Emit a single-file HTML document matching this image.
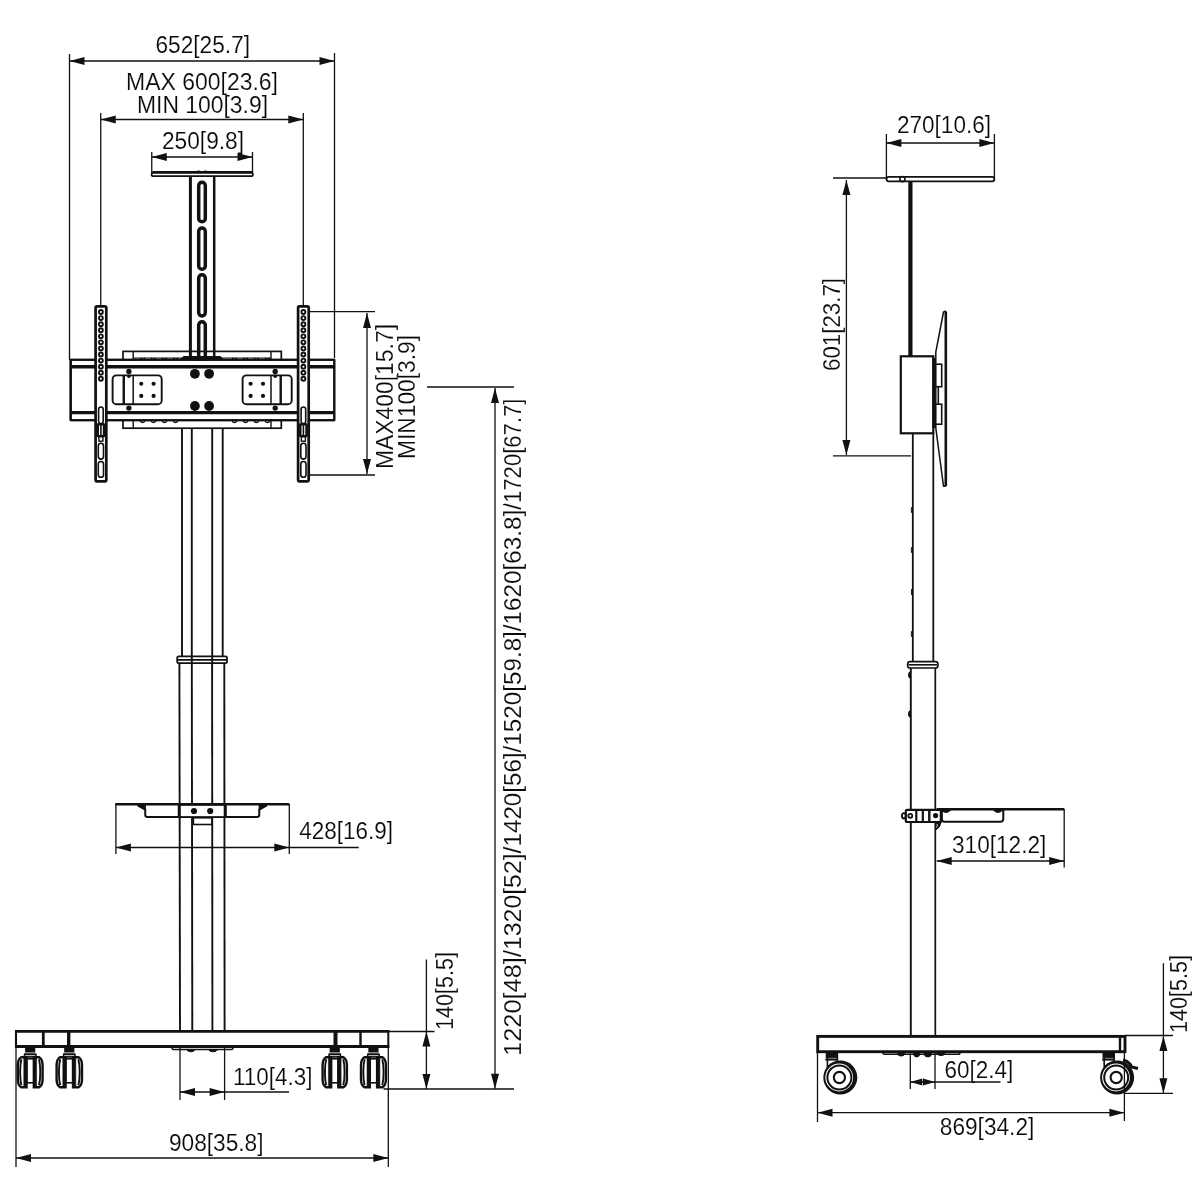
<!DOCTYPE html>
<html><head><meta charset="utf-8"><style>
html,body{margin:0;padding:0;background:#fff;}
svg{display:block;will-change:transform;}
text{font-family:"Liberation Sans",sans-serif;fill:#0a0a0a;stroke:#fff;stroke-width:0.15px;paint-order:fill stroke;}
.f{fill:#111;stroke:none;}
</style></head><body>
<svg width="1200" height="1200" viewBox="0 0 1200 1200">
<rect x="0" y="0" width="1200" height="1200" fill="#fff"/>
<g stroke="#111" fill="none">
<line x1="69.5" y1="54" x2="69.5" y2="360" stroke-width="1.3"/>
<line x1="334.5" y1="53" x2="334.5" y2="358" stroke-width="1.3"/>
<line x1="69.5" y1="61" x2="334.5" y2="61" stroke-width="1.3"/>
<polygon class="f" points="69.5,61 84.5,57 84.5,65"/>
<polygon class="f" points="334.5,61 319.5,57 319.5,65"/>
<text x="155.5" y="53" font-size="23" textLength="94.5" lengthAdjust="spacingAndGlyphs">652[25.7]</text>
<text x="126" y="90" font-size="23" textLength="152" lengthAdjust="spacingAndGlyphs">MAX 600[23.6]</text>
<text x="137" y="112.5" font-size="23" textLength="131" lengthAdjust="spacingAndGlyphs">MIN 100[3.9]</text>
<line x1="100.75" y1="113" x2="100.75" y2="306.5" stroke-width="1.3"/>
<line x1="303.3" y1="113" x2="303.3" y2="306.5" stroke-width="1.3"/>
<line x1="100.75" y1="119.5" x2="303.3" y2="119.5" stroke-width="1.3"/>
<polygon class="f" points="100.75,119.5 115.75,115.5 115.75,123.5"/>
<polygon class="f" points="303.3,119.5 288.3,115.5 288.3,123.5"/>
<text x="162" y="148.75" font-size="23" textLength="82" lengthAdjust="spacingAndGlyphs">250[9.8]</text>
<line x1="151.75" y1="152" x2="151.75" y2="174" stroke-width="1.3"/>
<line x1="252.5" y1="152" x2="252.5" y2="174" stroke-width="1.3"/>
<line x1="151.75" y1="157" x2="252.5" y2="157" stroke-width="1.3"/>
<polygon class="f" points="151.75,157 166.75,153 166.75,161"/>
<polygon class="f" points="252.5,157 237.5,153 237.5,161"/>
<rect x="151.6" y="172.6" width="101.3" height="3.6" rx="1.8" fill="none" stroke-width="1.7"/>
<line x1="152.5" y1="172.3" x2="252" y2="172.3" stroke-width="2.6"/>
<path d="M196,172.3 Q198.5,170 201,172.3 M203,172.3 Q205.5,170 208,172.3" fill="none" stroke-width="1.2"/>
<line x1="190.4" y1="176.5" x2="190.4" y2="358" stroke-width="3.0"/>
<line x1="214.2" y1="176.5" x2="214.2" y2="358" stroke-width="2.5"/>
<rect x="198.7" y="182.3" width="6.6" height="39.4" rx="3.3" fill="none" stroke-width="3.5"/>
<rect x="198.7" y="228.1" width="6.6" height="41.1" rx="3.3" fill="none" stroke-width="3.5"/>
<rect x="198.7" y="274.8" width="6.6" height="41.1" rx="3.3" fill="none" stroke-width="3.5"/>
<rect x="198.7" y="321.8" width="6.6" height="40.4" rx="3.3" fill="none" stroke-width="3.5"/>
<rect x="123" y="351.4" width="158.3" height="76.8" rx="0" fill="none" stroke-width="1.7"/>
<line x1="133.2" y1="351.4" x2="133.2" y2="428.2" stroke-width="1.4"/>
<line x1="271" y1="351.4" x2="271" y2="428.2" stroke-width="1.4"/>
<path d="M140,358 q2.5,2.5 5,0 M151,358 q2.5,2.5 5,0 M162,358 q2.5,2.5 5,0 M173,358 q2.5,2.5 5,0 M232,358 q2.5,2.5 5,0 M243,358 q2.5,2.5 5,0 M254,358 q2.5,2.5 5,0 M265,358 q2.5,2.5 5,0 " fill="none" stroke-width="1.3"/>
<line x1="133.2" y1="358" x2="271" y2="358" stroke-width="1.0"/>
<path d="M140,421.3 q2.5,2.5 5,0 M151,421.3 q2.5,2.5 5,0 M162,421.3 q2.5,2.5 5,0 M173,421.3 q2.5,2.5 5,0 M232,421.3 q2.5,2.5 5,0 M243,421.3 q2.5,2.5 5,0 M254,421.3 q2.5,2.5 5,0 M265,421.3 q2.5,2.5 5,0 " fill="none" stroke-width="1.3"/>
<path d="M181,359.3 L184,356.5 L220,356.5 L223,359.3 Z" fill="#111" stroke-width="1.2"/>
<rect x="70.7" y="359.8" width="263.6" height="60.4" rx="0" fill="none" stroke-width="2.0"/>
<rect x="72" y="361" width="261" height="58" fill="#fff" stroke="none"/>
<line x1="70.7" y1="359.8" x2="334.3" y2="359.8" stroke-width="2.0"/>
<line x1="70.7" y1="420.2" x2="334.3" y2="420.2" stroke-width="2.0"/>
<line x1="70.7" y1="359.8" x2="70.7" y2="420.2" stroke-width="2.4"/>
<line x1="334.3" y1="359.8" x2="334.3" y2="420.2" stroke-width="2.0"/>
<line x1="70.7" y1="366.7" x2="334.3" y2="366.7" stroke-width="3.4"/>
<line x1="70.7" y1="412.6" x2="334.3" y2="412.6" stroke-width="3.4"/>
<rect x="112.6" y="375.4" width="49.1" height="28.8" rx="3.8" fill="none" stroke-width="1.9"/>
<rect x="242.6" y="375.4" width="49.1" height="28.8" rx="3.8" fill="none" stroke-width="1.9"/>
<line x1="123.75" y1="375.4" x2="123.75" y2="404.2" stroke-width="2.4"/>
<line x1="133.2" y1="375.4" x2="133.2" y2="404.2" stroke-width="1.5"/>
<line x1="271" y1="375.4" x2="271" y2="404.2" stroke-width="1.5"/>
<line x1="280.7" y1="375.4" x2="280.7" y2="404.2" stroke-width="2.4"/>
<circle class="f" cx="141.25" cy="383.75" r="2.1"/>
<circle class="f" cx="141.25" cy="395.9" r="2.1"/>
<circle class="f" cx="153.6" cy="383.75" r="2.1"/>
<circle class="f" cx="153.6" cy="395.9" r="2.1"/>
<circle class="f" cx="250.6" cy="383.75" r="2.1"/>
<circle class="f" cx="250.6" cy="395.9" r="2.1"/>
<circle class="f" cx="263" cy="383.75" r="2.1"/>
<circle class="f" cx="263" cy="395.9" r="2.1"/>
<circle class="f" cx="194.9" cy="373.8" r="4.9"/>
<circle class="f" cx="194.9" cy="406" r="4.9"/>
<circle class="f" cx="209.1" cy="373.8" r="4.9"/>
<circle class="f" cx="209.1" cy="406" r="4.9"/>
<circle class="f" cx="128.9" cy="371.4" r="2.7"/>
<circle class="f" cx="128.9" cy="408.1" r="2.7"/>
<circle class="f" cx="128.9" cy="376.3" r="1.8"/>
<circle class="f" cx="275.2" cy="371.4" r="2.7"/>
<circle class="f" cx="275.2" cy="408.1" r="2.7"/>
<circle class="f" cx="275.2" cy="376.3" r="1.8"/>
<rect x="95.6" y="306.3" width="10.7" height="175" rx="1.5" fill="#fff" stroke-width="2.7"/>
<circle cx="100.9" cy="312" r="1.95" fill="none" stroke-width="1.9"/>
<circle cx="100.9" cy="318.07" r="1.95" fill="none" stroke-width="1.9"/>
<circle cx="100.9" cy="324.14" r="1.95" fill="none" stroke-width="1.9"/>
<circle cx="100.9" cy="330.21" r="1.95" fill="none" stroke-width="1.9"/>
<circle cx="100.9" cy="336.28" r="1.95" fill="none" stroke-width="1.9"/>
<circle cx="100.9" cy="342.35" r="1.95" fill="none" stroke-width="1.9"/>
<circle cx="100.9" cy="348.42" r="1.95" fill="none" stroke-width="1.9"/>
<circle cx="100.9" cy="354.49" r="1.95" fill="none" stroke-width="1.9"/>
<circle cx="100.9" cy="360.56" r="1.95" fill="none" stroke-width="1.9"/>
<circle cx="100.9" cy="366.63" r="1.95" fill="none" stroke-width="1.9"/>
<circle cx="100.9" cy="372.7" r="1.95" fill="none" stroke-width="1.9"/>
<circle cx="100.9" cy="378.77" r="1.95" fill="none" stroke-width="1.9"/>
<rect x="98.6" y="407" width="4.6" height="16.5" rx="2.3" fill="none" stroke-width="1.6"/>
<rect x="97.7" y="424.3" width="6.4" height="11.9" rx="0.8" fill="none" stroke-width="2.6"/>
<line x1="100.9" y1="425" x2="100.9" y2="436" stroke-width="1.6"/>
<rect x="98.9" y="436.2" width="4" height="5" rx="0" fill="none" stroke-width="1.4"/>
<rect x="98.3" y="443.3" width="5.2" height="15.8" rx="2.6" fill="none" stroke-width="1.6"/>
<rect x="98.3" y="461.5" width="5.2" height="15.8" rx="2.6" fill="none" stroke-width="1.6"/>
<rect x="298.1" y="306.3" width="10.6" height="175" rx="1.5" fill="#fff" stroke-width="2.7"/>
<circle cx="303.4" cy="312" r="1.95" fill="none" stroke-width="1.9"/>
<circle cx="303.4" cy="318.07" r="1.95" fill="none" stroke-width="1.9"/>
<circle cx="303.4" cy="324.14" r="1.95" fill="none" stroke-width="1.9"/>
<circle cx="303.4" cy="330.21" r="1.95" fill="none" stroke-width="1.9"/>
<circle cx="303.4" cy="336.28" r="1.95" fill="none" stroke-width="1.9"/>
<circle cx="303.4" cy="342.35" r="1.95" fill="none" stroke-width="1.9"/>
<circle cx="303.4" cy="348.42" r="1.95" fill="none" stroke-width="1.9"/>
<circle cx="303.4" cy="354.49" r="1.95" fill="none" stroke-width="1.9"/>
<circle cx="303.4" cy="360.56" r="1.95" fill="none" stroke-width="1.9"/>
<circle cx="303.4" cy="366.63" r="1.95" fill="none" stroke-width="1.9"/>
<circle cx="303.4" cy="372.7" r="1.95" fill="none" stroke-width="1.9"/>
<circle cx="303.4" cy="378.77" r="1.95" fill="none" stroke-width="1.9"/>
<rect x="301.1" y="407" width="4.6" height="16.5" rx="2.3" fill="none" stroke-width="1.6"/>
<rect x="300.2" y="424.3" width="6.4" height="11.9" rx="0.8" fill="none" stroke-width="2.6"/>
<line x1="303.4" y1="425" x2="303.4" y2="436" stroke-width="1.6"/>
<rect x="301.4" y="436.2" width="4" height="5" rx="0" fill="none" stroke-width="1.4"/>
<rect x="300.8" y="443.3" width="5.2" height="15.8" rx="2.6" fill="none" stroke-width="1.6"/>
<rect x="300.8" y="461.5" width="5.2" height="15.8" rx="2.6" fill="none" stroke-width="1.6"/>
<line x1="182" y1="428.2" x2="182" y2="657" stroke-width="1.9"/>
<line x1="191.8" y1="428.2" x2="191.8" y2="657" stroke-width="1.9"/>
<line x1="212.2" y1="428.2" x2="212.2" y2="657" stroke-width="1.9"/>
<line x1="222.7" y1="428.2" x2="222.7" y2="657" stroke-width="1.9"/>
<rect x="177.2" y="656.4" width="49.8" height="6.8" rx="1.6" fill="none" stroke-width="1.8"/>
<line x1="178" y1="659.8" x2="226.5" y2="659.8" stroke-width="1.7"/>
<line x1="191.8" y1="656" x2="191.8" y2="663.5" stroke-width="1.9"/>
<line x1="212.2" y1="656" x2="212.2" y2="663.5" stroke-width="1.9"/>
<line x1="179.4" y1="663" x2="180" y2="1031" stroke-width="1.9"/>
<line x1="191.8" y1="663" x2="192.3" y2="1031" stroke-width="1.9"/>
<line x1="212.1" y1="663" x2="212.4" y2="1031" stroke-width="1.9"/>
<line x1="224.3" y1="663" x2="224.6" y2="1031" stroke-width="1.9"/>
<path d="M137.75,805.4 L145.25,809.5 L145.25,815 Q145.25,817 147.5,817 L257,817 Q259.25,817 259.25,815 L259.25,809.5 L266.75,805.4" fill="none" stroke-width="2.0"/>
<path d="M137.75,805.4 L145.25,805.4 L145.25,809.5 Z M266.75,805.4 L259.25,805.4 L259.25,809.5 Z" fill="#111" stroke-width="1.2"/>
<line x1="115.25" y1="804.3" x2="289.25" y2="804.3" stroke-width="2.5"/>
<rect x="178.6" y="805" width="47.3" height="12" rx="0" fill="#fff" stroke-width="1.7"/>
<line x1="179.6" y1="805" x2="179.6" y2="817" stroke-width="2.4"/>
<line x1="224.9" y1="805" x2="224.9" y2="817" stroke-width="2.4"/>
<circle class="f" cx="194" cy="811" r="3.1"/>
<circle class="f" cx="210.2" cy="811" r="3.1"/>
<rect x="193.4" y="817.8" width="18.6" height="6.7" rx="0" fill="none" stroke-width="1.6"/>
<line x1="115.9" y1="804" x2="115.9" y2="854" stroke-width="1.3"/>
<line x1="289.3" y1="804" x2="289.3" y2="854" stroke-width="1.3"/>
<line x1="115.9" y1="847.5" x2="289.3" y2="847.5" stroke-width="1.3"/>
<polygon class="f" points="115.9,847.5 130.9,843.5 130.9,851.5"/>
<polygon class="f" points="289.3,847.5 274.3,843.5 274.3,851.5"/>
<line x1="289.3" y1="847.5" x2="358.75" y2="847.5" stroke-width="1.3"/>
<text x="299.25" y="838.75" font-size="23" textLength="93.75" lengthAdjust="spacingAndGlyphs">428[16.9]</text>
<line x1="15" y1="1031.4" x2="389.3" y2="1031.4" stroke-width="2.8"/>
<line x1="15" y1="1046.5" x2="389.3" y2="1046.5" stroke-width="2.9"/>
<line x1="16" y1="1030" x2="16" y2="1048" stroke-width="2.1"/>
<line x1="388.3" y1="1030" x2="388.3" y2="1048" stroke-width="2.0"/>
<line x1="43.3" y1="1031.4" x2="43.3" y2="1046.5" stroke-width="2.8"/>
<line x1="68.7" y1="1031.4" x2="68.7" y2="1050" stroke-width="3.4"/>
<line x1="335.5" y1="1031.4" x2="335.5" y2="1048" stroke-width="4.0"/>
<line x1="360.5" y1="1031.4" x2="360.5" y2="1046.5" stroke-width="2.4"/>
<path d="M171.5,1047.3 Q172,1049.4 174,1049.4 L231,1049.4 Q233,1049.4 233.5,1047.3" fill="none" stroke-width="1.5"/>
<path d="M186.7,1049.6 Q187.5,1051.8 191,1051.8 Q194.2,1051.8 195,1049.6 Z M208.7,1049.6 Q209.5,1051.8 213,1051.8 Q216.7,1051.8 217.5,1049.6 Z" fill="#111" stroke-width="1.0"/>
<path d="M25.7,1047.6 L34.7,1047.6 L34.7,1052 L25.7,1052 Z" fill="#111" stroke-width="1.2"/>
<path d="M24.2,1057 L24.7,1054 L35.7,1054 L36.2,1057 Z" fill="#111" stroke-width="1.6"/>
<line x1="25.2" y1="1055.6" x2="35.2" y2="1055.6" stroke="#fff" stroke-width="0.8"/>
<rect x="26.56" y="1058.8" width="7.28" height="24" rx="0" fill="#fff" stroke-width="1.6"/>
<path d="M26.56,1057.3 L21.2,1057.3 Q17.8,1059.3 17.8,1065.3 L17.8,1079.3 Q17.8,1085.3 21.2,1087.3 L26.56,1087.3 Z" fill="#fff" stroke-width="2.4"/>
<path d="M21.4,1059.3 Q20.2,1064.3 20.2,1070.3 L20.2,1074.3 Q20.2,1080.3 21.4,1085.3" fill="none" stroke-width="1.9"/>
<path d="M23.76,1057.3 L23.76,1087.3 L26.56,1087.3 L26.56,1057.3 Z" fill="#111" stroke-width="0.5"/>
<path d="M33.84,1057.3 L39.2,1057.3 Q42.6,1059.3 42.6,1065.3 L42.6,1079.3 Q42.6,1085.3 39.2,1087.3 L33.84,1087.3 Z" fill="#fff" stroke-width="2.4"/>
<path d="M39,1059.3 Q40.2,1064.3 40.2,1070.3 L40.2,1074.3 Q40.2,1080.3 39,1085.3" fill="none" stroke-width="1.9"/>
<path d="M36.64,1057.3 L36.64,1087.3 L33.84,1087.3 L33.84,1057.3 Z" fill="#111" stroke-width="0.5"/>
<path d="M64.8,1047.6 L73.8,1047.6 L73.8,1052 L64.8,1052 Z" fill="#111" stroke-width="1.2"/>
<path d="M63.3,1057 L63.8,1054 L74.8,1054 L75.3,1057 Z" fill="#111" stroke-width="1.6"/>
<line x1="64.3" y1="1055.6" x2="74.3" y2="1055.6" stroke="#fff" stroke-width="0.8"/>
<rect x="65.58" y="1058.8" width="7.45" height="24" rx="0" fill="#fff" stroke-width="1.6"/>
<path d="M65.58,1057.3 L60,1057.3 Q56.6,1059.3 56.6,1065.3 L56.6,1079.3 Q56.6,1085.3 60,1087.3 L65.58,1087.3 Z" fill="#fff" stroke-width="2.4"/>
<path d="M60.2,1059.3 Q59,1064.3 59,1070.3 L59,1074.3 Q59,1080.3 60.2,1085.3" fill="none" stroke-width="1.9"/>
<path d="M62.78,1057.3 L62.78,1087.3 L65.58,1087.3 L65.58,1057.3 Z" fill="#111" stroke-width="0.5"/>
<path d="M73.02,1057.3 L78.6,1057.3 Q82,1059.3 82,1065.3 L82,1079.3 Q82,1085.3 78.6,1087.3 L73.02,1087.3 Z" fill="#fff" stroke-width="2.4"/>
<path d="M78.4,1059.3 Q79.6,1064.3 79.6,1070.3 L79.6,1074.3 Q79.6,1080.3 78.4,1085.3" fill="none" stroke-width="1.9"/>
<path d="M75.82,1057.3 L75.82,1087.3 L73.02,1087.3 L73.02,1057.3 Z" fill="#111" stroke-width="0.5"/>
<path d="M330.25,1047.6 L339.25,1047.6 L339.25,1052 L330.25,1052 Z" fill="#111" stroke-width="1.2"/>
<path d="M328.75,1057 L329.25,1054 L340.25,1054 L340.75,1057 Z" fill="#111" stroke-width="1.6"/>
<line x1="329.75" y1="1055.6" x2="339.75" y2="1055.6" stroke="#fff" stroke-width="0.8"/>
<rect x="331.18" y="1058.8" width="7.14" height="24" rx="0" fill="#fff" stroke-width="1.6"/>
<path d="M331.18,1057.3 L326,1057.3 Q322.6,1059.3 322.6,1065.3 L322.6,1079.3 Q322.6,1085.3 326,1087.3 L331.18,1087.3 Z" fill="#fff" stroke-width="2.4"/>
<path d="M326.2,1059.3 Q325,1064.3 325,1070.3 L325,1074.3 Q325,1080.3 326.2,1085.3" fill="none" stroke-width="1.9"/>
<path d="M328.38,1057.3 L328.38,1087.3 L331.18,1087.3 L331.18,1057.3 Z" fill="#111" stroke-width="0.5"/>
<path d="M338.32,1057.3 L343.5,1057.3 Q346.9,1059.3 346.9,1065.3 L346.9,1079.3 Q346.9,1085.3 343.5,1087.3 L338.32,1087.3 Z" fill="#fff" stroke-width="2.4"/>
<path d="M343.3,1059.3 Q344.5,1064.3 344.5,1070.3 L344.5,1074.3 Q344.5,1080.3 343.3,1085.3" fill="none" stroke-width="1.9"/>
<path d="M341.12,1057.3 L341.12,1087.3 L338.32,1087.3 L338.32,1057.3 Z" fill="#111" stroke-width="0.5"/>
<path d="M368.95,1047.6 L377.95,1047.6 L377.95,1052 L368.95,1052 Z" fill="#111" stroke-width="1.2"/>
<path d="M367.45,1057 L367.95,1054 L378.95,1054 L379.45,1057 Z" fill="#111" stroke-width="1.6"/>
<line x1="368.45" y1="1055.6" x2="378.45" y2="1055.6" stroke="#fff" stroke-width="0.8"/>
<rect x="369.8" y="1058.8" width="7.31" height="24" rx="0" fill="#fff" stroke-width="1.6"/>
<path d="M369.8,1057.3 L364.4,1057.3 Q361,1059.3 361,1065.3 L361,1079.3 Q361,1085.3 364.4,1087.3 L369.8,1087.3 Z" fill="#fff" stroke-width="2.4"/>
<path d="M364.6,1059.3 Q363.4,1064.3 363.4,1070.3 L363.4,1074.3 Q363.4,1080.3 364.6,1085.3" fill="none" stroke-width="1.9"/>
<path d="M367,1057.3 L367,1087.3 L369.8,1087.3 L369.8,1057.3 Z" fill="#111" stroke-width="0.5"/>
<path d="M377.1,1057.3 L382.5,1057.3 Q385.9,1059.3 385.9,1065.3 L385.9,1079.3 Q385.9,1085.3 382.5,1087.3 L377.1,1087.3 Z" fill="#fff" stroke-width="2.4"/>
<path d="M382.3,1059.3 Q383.5,1064.3 383.5,1070.3 L383.5,1074.3 Q383.5,1080.3 382.3,1085.3" fill="none" stroke-width="1.9"/>
<path d="M379.9,1057.3 L379.9,1087.3 L377.1,1087.3 L377.1,1057.3 Z" fill="#111" stroke-width="0.5"/>
<line x1="180" y1="1047" x2="180" y2="1100" stroke-width="1.3"/>
<line x1="224.6" y1="1047" x2="224.6" y2="1100" stroke-width="1.3"/>
<line x1="180" y1="1092" x2="224.6" y2="1092" stroke-width="1.3"/>
<polygon class="f" points="180,1092 195,1088 195,1096"/>
<polygon class="f" points="224.6,1092 209.6,1088 209.6,1096"/>
<line x1="224.6" y1="1092" x2="289" y2="1092" stroke-width="1.3"/>
<text x="233" y="1085" font-size="23" textLength="79.4" lengthAdjust="spacingAndGlyphs">110[4.3]</text>
<line x1="16" y1="1047" x2="16" y2="1167" stroke-width="1.3"/>
<line x1="388.3" y1="1047" x2="388.3" y2="1167" stroke-width="1.3"/>
<line x1="16" y1="1158" x2="388.3" y2="1158" stroke-width="1.3"/>
<polygon class="f" points="16,1158 31,1154 31,1162"/>
<polygon class="f" points="388.3,1158 373.3,1154 373.3,1162"/>
<text x="169" y="1151" font-size="23" textLength="94.5" lengthAdjust="spacingAndGlyphs">908[35.8]</text>
<line x1="388.6" y1="1031.5" x2="434.5" y2="1031.5" stroke-width="1.3"/>
<line x1="383.5" y1="1089" x2="514" y2="1089" stroke-width="1.3"/>
<line x1="426.4" y1="959.5" x2="426.4" y2="1089" stroke-width="1.3"/>
<polygon class="f" points="426.4,1031.5 422.4,1046.5 430.4,1046.5"/>
<polygon class="f" points="426.4,1089 422.4,1074 430.4,1074"/>
<text transform="translate(452.5,1030) rotate(-90)" font-size="23" textLength="78" lengthAdjust="spacingAndGlyphs">140[5.5]</text>
<line x1="427" y1="387" x2="514" y2="387" stroke-width="1.3"/>
<line x1="495" y1="388" x2="495" y2="1088.7" stroke-width="1.3"/>
<polygon class="f" points="495,388 491,403 499,403"/>
<polygon class="f" points="495,1088.7 491,1073.7 499,1073.7"/>
<text transform="translate(520.7,1056) rotate(-90)" font-size="23" textLength="106" lengthAdjust="spacingAndGlyphs">1220[48]/</text>
<text transform="translate(520.7,950) rotate(-90)" font-size="23" textLength="103.5" lengthAdjust="spacingAndGlyphs">1320[52]/</text>
<text transform="translate(520.7,846.5) rotate(-90)" font-size="23" textLength="100.8" lengthAdjust="spacingAndGlyphs">1420[56]/</text>
<text transform="translate(520.7,745.7) rotate(-90)" font-size="23" textLength="121.3" lengthAdjust="spacingAndGlyphs">1520[59.8]/</text>
<text transform="translate(520.7,624.4) rotate(-90)" font-size="23" textLength="121.4" lengthAdjust="spacingAndGlyphs">1620[63.8]/</text>
<text transform="translate(520.7,503) rotate(-90)" font-size="23" textLength="104.5" lengthAdjust="spacingAndGlyphs">1720[67.7]</text>
<line x1="309" y1="311.6" x2="375" y2="311.6" stroke-width="1.3"/>
<line x1="309" y1="475" x2="375" y2="475" stroke-width="1.3"/>
<line x1="367" y1="313" x2="367" y2="474" stroke-width="1.3"/>
<polygon class="f" points="367,313 363,328 371,328"/>
<polygon class="f" points="367,474 363,459 371,459"/>
<text transform="translate(392.5,469) rotate(-90)" font-size="23" textLength="145" lengthAdjust="spacingAndGlyphs">MAX400[15.7]</text>
<text transform="translate(414.5,459) rotate(-90)" font-size="23" textLength="124" lengthAdjust="spacingAndGlyphs">MIN100[3.9]</text>
<text x="897" y="133" font-size="23" textLength="94" lengthAdjust="spacingAndGlyphs">270[10.6]</text>
<line x1="886.4" y1="134" x2="886.4" y2="180" stroke-width="1.3"/>
<line x1="994.4" y1="134" x2="994.4" y2="180" stroke-width="1.3"/>
<line x1="886.4" y1="143" x2="994.4" y2="143" stroke-width="1.3"/>
<polygon class="f" points="886.4,143 901.4,139 901.4,147"/>
<polygon class="f" points="994.4,143 979.4,139 979.4,147"/>
<rect x="886.6" y="176.8" width="107.8" height="4.6" rx="2.2" fill="none" stroke-width="1.7"/>
<circle cx="902.4" cy="179.1" r="2.6" fill="none" stroke-width="1.6"/>
<rect class="f" x="908.3" y="181" width="4.2" height="175"/>
<line x1="833" y1="178" x2="886" y2="178" stroke-width="1.3"/>
<line x1="833" y1="455.8" x2="911" y2="455.8" stroke-width="1.3"/>
<line x1="846.4" y1="180" x2="846.4" y2="455" stroke-width="1.3"/>
<polygon class="f" points="846.4,180 842.4,195 850.4,195"/>
<polygon class="f" points="846.4,455 842.4,440 850.4,440"/>
<text transform="translate(840,371) rotate(-90)" font-size="23" textLength="93" lengthAdjust="spacingAndGlyphs">601[23.7]</text>
<path d="M943.5,312 Q945.5,310.5 946,312 L946,485 Q945.5,487 943.5,486 L935.8,428 L935.8,352 Z" fill="#fff" stroke-width="1.5"/>
<line x1="945.8" y1="312" x2="945.8" y2="486" stroke-width="2.6"/>
<rect x="900.8" y="356.3" width="32.5" height="77" rx="0" fill="#fff" stroke-width="2.2"/>
<line x1="933.8" y1="358" x2="933.8" y2="428" stroke-width="3.0"/>
<rect x="935.2" y="364.2" width="6.5" height="22.5" rx="0" fill="none" stroke-width="1.6"/>
<rect x="935.2" y="404.2" width="6.5" height="20" rx="0" fill="none" stroke-width="1.6"/>
<line x1="938.3" y1="386.7" x2="938.3" y2="404.2" stroke-width="1.6"/>
<line x1="912.8" y1="433.3" x2="912.8" y2="661.6" stroke-width="1.8"/>
<line x1="933.3" y1="433.3" x2="933.3" y2="661.6" stroke-width="1.8"/>
<rect x="907.6" y="661.6" width="30.4" height="6.4" rx="2.6" fill="none" stroke-width="1.6"/>
<line x1="908.5" y1="664.8" x2="937" y2="664.8" stroke-width="1.6"/>
<line x1="910.8" y1="668" x2="910.8" y2="1036" stroke-width="1.9"/>
<line x1="935.3" y1="668" x2="935.3" y2="1036" stroke-width="1.7"/>
<path d="M911.8,507 Q910.6,510 911.8,513" fill="none" stroke-width="1.0"/>
<path d="M911.8,547 Q910.6,550 911.8,553" fill="none" stroke-width="1.0"/>
<path d="M911.8,589 Q910.6,592 911.8,595" fill="none" stroke-width="1.0"/>
<path d="M911.8,631 Q910.6,634 911.8,637" fill="none" stroke-width="1.0"/>
<path d="M910,672 Q908,675 910,678 M910,711 Q908,714 910,717" fill="none" stroke-width="2.0"/>
<line x1="936.7" y1="809.2" x2="1064.2" y2="809.2" stroke-width="2.6"/>
<path d="M941.7,810 L941.7,819 Q941.7,821.7 944.5,821.7 L1000.5,821.7 Q1003.3,821.7 1003.3,819 L1003.3,810" fill="none" stroke-width="2.0"/>
<path d="M942,810 q3.5,4 8,0 Z M994,810 q3.5,4 8,0 Z" fill="#111" stroke-width="1.8"/>
<rect x="905.8" y="809.8" width="35.5" height="12.2" rx="1.5" fill="#fff" stroke-width="2.2"/>
<ellipse class="f" cx="903.8" cy="815.8" rx="2.8" ry="3.6"/>
<ellipse cx="903.8" cy="815.8" rx="0.9" ry="1.8" fill="#fff" stroke="none"/>
<circle cx="910.3" cy="815.8" r="2" fill="none" stroke-width="1.8"/>
<line x1="916.3" y1="809.8" x2="916.3" y2="822" stroke-width="2.2"/>
<line x1="922.8" y1="809.8" x2="922.8" y2="822" stroke-width="2.2"/>
<line x1="929.3" y1="809.8" x2="929.3" y2="822" stroke-width="2.4"/>
<line x1="941" y1="809.8" x2="941" y2="822" stroke-width="2.6"/>
<circle class="f" cx="935.6" cy="815.6" r="2.6"/>
<path d="M935.5,822.5 L941,822.5 Q940,828 935.5,830 Z" fill="#111" stroke-width="1.0"/>
<path d="M937.2,824 Q937.5,826 936.5,827.5" stroke="#fff" stroke-width="0.8" fill="none"/>
<line x1="1064.2" y1="809" x2="1064.2" y2="867.5" stroke-width="1.3"/>
<line x1="936.7" y1="861" x2="1064.2" y2="861" stroke-width="1.3"/>
<polygon class="f" points="936.7,861 951.7,857 951.7,865"/>
<polygon class="f" points="1064.2,861 1049.2,857 1049.2,865"/>
<text x="952" y="853.3" font-size="23" textLength="94.3" lengthAdjust="spacingAndGlyphs">310[12.2]</text>
<rect x="817.7" y="1036.4" width="307.3" height="15.3" rx="0" fill="none" stroke-width="2.9"/>
<line x1="1120" y1="1036.4" x2="1120" y2="1051.7" stroke-width="2.4"/>
<path d="M882.5,1052.5 Q883,1054.3 885,1054.3 L958,1054.3 Q960,1054.3 960,1052.5" fill="none" stroke-width="1.6"/>
<path d="M897.5,1053.5 Q898,1056 901,1056 Q904.5,1056 905,1053.5 Z M913.3,1053.5 Q914,1057 916.6,1057 Q919.5,1057 920,1053.5 Z M924,1053.5 Q924.5,1057 928,1057 Q931.2,1057 931.7,1053.5 Z M936.7,1053.5 Q937.5,1055.5 941,1055.5 Q944.5,1055.5 945,1053.5 Z" fill="#111" stroke-width="1.0"/>
<line x1="1125" y1="1035.5" x2="1173" y2="1035.5" stroke-width="1.3"/>
<path d="M827.4,1053 L827.4,1066.5 L837.4,1061.5 L837.4,1053" fill="none" stroke-width="1.6"/>
<rect x="826.4" y="1052.7" width="10.5" height="4.5" rx="0" fill="#111" stroke-width="1.4"/>
<line x1="825.4" y1="1059.5" x2="837.4" y2="1059.5" stroke-width="2.2"/>
<circle class="f" cx="840.3" cy="1077.5" r="17"/>
<circle cx="839.2" cy="1077.5" r="13.9" fill="#fff" stroke="none"/>
<circle cx="839.4" cy="1077.5" r="12" fill="none" stroke-width="2.0"/>
<circle cx="839.4" cy="1077.5" r="5.6" fill="none" stroke-width="2.1"/>
<path d="M1104.2,1053 L1104.2,1066.5 L1114.2,1061.5 L1114.2,1053" fill="none" stroke-width="1.6"/>
<rect x="1103.2" y="1052.7" width="10.5" height="4.5" rx="0" fill="#111" stroke-width="1.4"/>
<line x1="1102.2" y1="1059.5" x2="1114.2" y2="1059.5" stroke-width="2.2"/>
<circle class="f" cx="1117.1" cy="1077.5" r="17"/>
<circle cx="1116" cy="1077.5" r="13.9" fill="#fff" stroke="none"/>
<circle cx="1116.2" cy="1077.5" r="12" fill="none" stroke-width="2.0"/>
<circle cx="1116.2" cy="1077.5" r="5.6" fill="none" stroke-width="2.1"/>
<path d="M1123,1060 Q1130,1062 1131.5,1067 L1138,1068.5" fill="none" stroke-width="3.2"/>
<line x1="910.3" y1="1052" x2="910.3" y2="1089" stroke-width="1.3"/>
<line x1="935" y1="1052" x2="935" y2="1089" stroke-width="1.3"/>
<line x1="910.3" y1="1082" x2="1000.5" y2="1082" stroke-width="1.3"/>
<polygon class="f" points="910.3,1082 922.3,1078.4 922.3,1085.6"/>
<polygon class="f" points="935,1082 923,1078.4 923,1085.6"/>
<text x="944.5" y="1077.7" font-size="23" textLength="68.8" lengthAdjust="spacingAndGlyphs">60[2.4]</text>
<line x1="817.5" y1="1052" x2="817.5" y2="1122" stroke-width="1.3"/>
<line x1="1124.4" y1="1052" x2="1124.4" y2="1121" stroke-width="1.3"/>
<line x1="817.5" y1="1112.7" x2="1124.4" y2="1112.7" stroke-width="1.3"/>
<polygon class="f" points="817.5,1112.7 832.5,1108.7 832.5,1116.7"/>
<polygon class="f" points="1124.4,1112.7 1109.4,1108.7 1109.4,1116.7"/>
<text x="939.8" y="1134.8" font-size="23" textLength="94.5" lengthAdjust="spacingAndGlyphs">869[34.2]</text>
<line x1="1125" y1="1093.3" x2="1173" y2="1093.3" stroke-width="1.3"/>
<line x1="1163.4" y1="963.3" x2="1163.4" y2="1093.3" stroke-width="1.3"/>
<polygon class="f" points="1163.4,1036 1159.4,1051 1167.4,1051"/>
<polygon class="f" points="1163.4,1093.3 1159.4,1078.3 1167.4,1078.3"/>
<text transform="translate(1187,1033) rotate(-90)" font-size="23" textLength="78" lengthAdjust="spacingAndGlyphs">140[5.5]</text>
</g>
</svg>
</body></html>
